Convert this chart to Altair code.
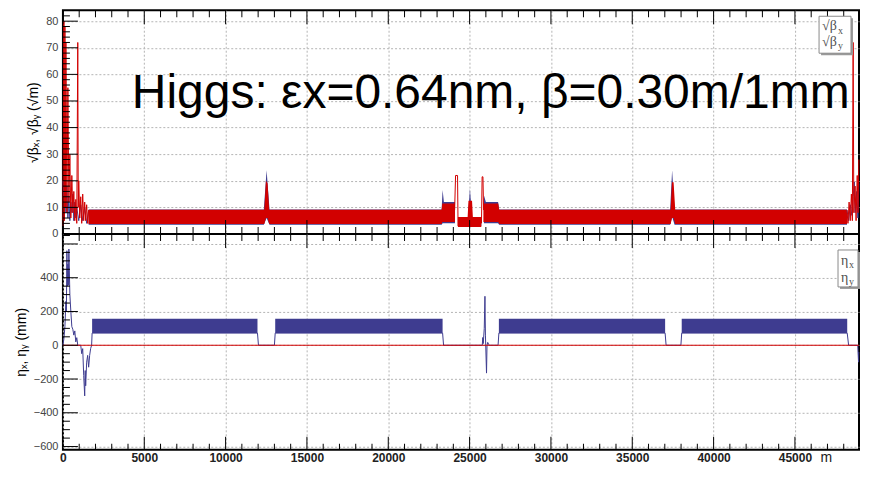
import altair as alt
import pandas as pd

S_MAX = 49000
TITLE = "Higgs: εx=0.64nm, β=0.30m/1mm"

# ---------------- top panel: sqrt(beta) [sqrt(m)] ----------------
# envelope (min/max) of the fast FODO oscillation: segment, s [m], low, high
bx_env_seg = [1, 1, 1, 1, 1, 1, 1, 1, 2, 2, 2, 2, 2, 3, 3, 3, 3, 3, 3, 3, 3]
bx_env_s = [1580, 12350, 12520, 12700, 23280, 23340, 23420, 24100,
            24300, 24900, 25020, 25150, 25720,
            25880, 26000, 26750, 26820, 37330, 37450, 37600, 48200]
bx_env_lo = [3.5, 3.5, 6.0, 3.5, 3.5, 4.0, 4.0, 4.0,
             3.0, 3.0, 3.0, 3.0, 3.0,
             4.0, 4.0, 4.0, 3.5, 3.5, 6.5, 3.5, 3.5]
bx_env_hi = [9.2, 9.2, 24.0, 9.2, 9.2, 16.5, 12.0, 12.0,
             6.2, 6.2, 17.0, 6.2, 6.2,
             14.6, 12.0, 12.0, 9.2, 9.2, 24.0, 9.2, 9.2]

by_env_seg = [1, 1, 1, 1, 1, 1, 1, 1, 2, 2, 2, 2, 2, 2, 3, 3, 3, 3, 3, 3, 3, 3]
by_env_s = [1580, 12380, 12480, 12580, 12680, 23280, 23320, 24100,
            24280, 24880, 24930, 25150, 25200, 25720,
            25850, 26760, 26820, 37360, 37440, 37540, 37640, 48200]
by_env_lo = [3.8, 3.8, 6.0, 6.0, 3.8, 3.8, 4.5, 4.5,
             2.6, 2.6, 2.6, 2.6, 2.6, 2.6,
             4.5, 4.5, 3.8, 3.8, 6.0, 6.0, 3.8, 3.8]
by_env_hi = [9.1, 9.1, 20.0, 19.0, 9.1, 9.1, 11.5, 11.5,
             6.4, 6.4, 12.5, 12.5, 6.4, 6.4,
             11.5, 11.5, 9.1, 9.1, 19.5, 19.5, 9.1, 9.1]

# interaction regions drawn as lines: s [m], value
bx_ir_left_s = [0, 61, 122, 182, 243, 304, 365, 426, 486, 547, 608, 669, 730, 790,
                851, 973, 1094, 1216, 1338, 1459, 1581]
bx_ir_left_v = [20, 14, 22, 8, 18, 6, 14, 5, 12, 8, 15, 5, 12, 6,
                10, 5, 11, 5, 10, 4, 9]
by_ir_left_s = [0, 61, 91, 122, 152, 182, 243, 304, 365, 426, 486, 547, 608, 669,
                730, 790, 851, 912, 942, 973, 1034, 1094, 1155, 1216, 1277, 1338,
                1398, 1459, 1520, 1581]
by_ir_left_v = [3, 80, 5, 78, 10, 72, 8, 55, 12, 30, 6, 22, 8, 16,
                5, 13, 4, 72, 10, 20, 6, 14, 4, 15, 5, 12,
                5, 11, 4, 9]
by_mid1_s = [24080, 24138, 24259, 24290]
by_mid1_v = [9, 22, 22, 3]
by_mid2_s = [25730, 25770, 25820, 25860]
by_mid2_v = [4, 21.5, 21.5, 9]
bx_ir_right_s = [48200, 48300, 48400, 48500, 48580, 48650, 48700, 48800, 48870, 48930]
bx_ir_right_v = [9, 5, 11, 7, 14, 19.6, 8, 16, 6, 19]
by_ir_right_s = [48200, 48260, 48330, 48400, 48470, 48530, 48578, 48620, 48700,
                 48760, 48830, 48880, 48930]
by_ir_right_v = [9, 4, 12, 5, 15, 5, 72, 8, 18, 5, 22, 8, 28]

# ---------------- bottom panel: dispersion [mm] ----------------
arc_start = [1794, 13050, 26800, 38040]
arc_end = [11960, 23340, 37020, 48214]
arc_lo = [72, 72, 72, 72]
arc_hi = [157, 157, 157, 157]

etax_s = [0, 61, 122, 182, 213, 243, 274, 304, 334, 365, 426, 486, 547, 608, 669,
          730, 790, 851, 912, 1094, 1155, 1216, 1277, 1338, 1368, 1398, 1459,
          1520, 1581, 1642, 1702, 1763, 1794,
          11960, 12020, 13000, 13050,
          23340, 23400, 25779, 25810, 25840, 25901, 25943, 25973, 26040, 26070,
          26113, 26174, 26200, 26750, 26800,
          37020, 37080, 37990, 38040,
          48214, 48300, 48860, 48890, 48910, 48930]
etax_v = [0, 40, 110, 260, 200, 560, 350, 480, 355, 570, 300, 200, 110, 95, 60,
          85, 20, 45, 0, 0, -50, -20, -180, -300, -150, -240, -100,
          -60, -130, -60, -20, 0, 72,
          72, 0, 0, 72,
          72, 0, 0, 46, 10, 100, 290, 60, -165, 0,
          17, 5, 0, 0, 72,
          72, 0, 0, 72,
          72, 0, 0, -60, -100, -40]
etay_s = [0, 48930]
etay_v = [0, 0]

# axis ticks
x_major = list(range(0, S_MAX + 1, 5000))
x_minor = [v for v in range(0, 48001, 1000) if v % 5000]
x_grid = [v for v in x_major if v > 0]
yt_major = list(range(0, 81, 10))
yt_minor = [v for v in range(2, 84, 2) if v % 10]
yb_major = list(range(-600, 601, 200))
yb_minor = [v for v in range(-600, 651, 50) if v % 200]

RED = "#d20000"
BLUE = "#3e3c90"
FONT = "Liberation Sans"
W = 797
HT = 224
HB = 216

xs = alt.Scale(domain=[0, 48939], nice=False, zero=False)
yts = alt.Scale(domain=[0, 84.1], nice=False, zero=False)
ybs = alt.Scale(domain=[-619, 659], nice=False, zero=False)

grid = dict(gridColor="#b4b4b4", gridDash=[2, 2], gridWidth=1)

AX_TOP_X = alt.Axis(values=x_grid, grid=True, labels=False, ticks=False,
                    domain=False, title=None, **grid)
AX_TOP_Y = alt.Axis(values=yt_major, grid=True, ticks=False, domain=False,
                    title="√βₓ, √βᵧ (√m)", labelFontSize=11, labelColor="#444",
                    labelPadding=5, labelFlush=False, labelOverlap=False,
                    titleFontSize=14, titleFontWeight="normal", titlePadding=5,
                    titleColor="black", **grid)
AX_BOT_X = alt.Axis(values=x_major, format="d", grid=True, ticks=False, domain=False,
                    labelFontSize=12, labelFontWeight="bold", labelColor="#222",
                    labelPadding=3, labelFlush=False, labelOverlap=False, title="m",
                    titleX=758, titleY=15, titleAlign="left",
                    titleBaseline="bottom", titleFontSize=14,
                    titleFontWeight="normal", titleColor="#222", **grid)
AX_BOT_Y = alt.Axis(values=yb_major, grid=True, ticks=False, domain=False,
                    labelExpr="datum.value == 600 ? '' : datum.label",
                    title="ηₓ, ηᵧ (mm)", labelFontSize=11, labelColor="#444",
                    labelPadding=5, labelFlush=False, labelOverlap=False,
                    titleFontSize=14, titleFontWeight="normal", titlePadding=5,
                    titleColor="black", **grid)


def env_df(seg, s, lo, hi):
    return pd.DataFrame({"seg": seg, "s": s, "lo": lo, "hi": hi})


def line_df(pieces):
    rows = []
    for name, s, v in pieces:
        for a, b in zip(s, v):
            rows.append({"seg": name, "s": a, "v": b})
    return pd.DataFrame(rows)


def xticks(vals, y1, y2, ax):
    return alt.Chart(pd.DataFrame({"t": vals})).mark_rule(color="black", strokeWidth=1).encode(
        x=alt.X("t:Q", scale=xs, axis=ax), y=alt.value(y1), y2=alt.value(y2))


def yticks(vals, ys, length, ax):
    return alt.Chart(pd.DataFrame({"t": vals})).mark_rule(color="black", strokeWidth=1).encode(
        y=alt.Y("t:Q", scale=ys, axis=ax), x=alt.value(0), x2=alt.value(length))


one = pd.DataFrame({"a": [0]})


def box(x1, x2, y1, y2):
    shadow = alt.Chart(one).mark_rect(fill="#9a9a9a").encode(
        x=alt.value(x1 + 2), x2=alt.value(x2 + 2), y=alt.value(y1 + 2), y2=alt.value(y2 + 2))
    frame = alt.Chart(one).mark_rect(fill="white", stroke="#8a8a8a", strokeWidth=1).encode(
        x=alt.value(x1), x2=alt.value(x2), y=alt.value(y1), y2=alt.value(y2))
    return [shadow, frame]


def txt(t, x, y, size, font="Liberation Serif", color="#505050"):
    return alt.Chart(one).mark_text(text=t, font=font, fontSize=size, color=color,
                                    align="left", baseline="alphabetic").encode(
        x=alt.value(x), y=alt.value(y))


# ---------- top panel ----------
bx_env = alt.Chart(env_df(bx_env_seg, bx_env_s, bx_env_lo, bx_env_hi)).mark_area(
    color=BLUE, opacity=1).encode(
    x=alt.X("s:Q", scale=xs, axis=AX_TOP_X),
    y=alt.Y("hi:Q", scale=yts, axis=AX_TOP_Y),
    y2="lo:Q", detail="seg:N")
by_env = alt.Chart(env_df(by_env_seg, by_env_s, by_env_lo, by_env_hi)).mark_area(
    color=RED, opacity=1).encode(
    x=alt.X("s:Q", scale=xs, axis=AX_TOP_X), y=alt.Y("hi:Q", scale=yts, axis=AX_TOP_Y),
    y2="lo:Q", detail="seg:N")
bx_lines = alt.Chart(line_df([("L", bx_ir_left_s, bx_ir_left_v),
                              ("R", bx_ir_right_s, bx_ir_right_v)])).mark_line(
    color=BLUE, strokeWidth=1).encode(
    x=alt.X("s:Q", scale=xs, axis=AX_TOP_X), y=alt.Y("v:Q", scale=yts, axis=AX_TOP_Y),
    detail="seg:N")
by_lines = alt.Chart(line_df([("L", by_ir_left_s, by_ir_left_v),
                              ("M1", by_mid1_s, by_mid1_v),
                              ("M2", by_mid2_s, by_mid2_v),
                              ("R", by_ir_right_s, by_ir_right_v)])).mark_line(
    color=RED, strokeWidth=1).encode(
    x=alt.X("s:Q", scale=xs, axis=AX_TOP_X), y=alt.Y("v:Q", scale=yts, axis=AX_TOP_Y),
    detail="seg:N")

top_layers = [bx_env, by_env, bx_lines, by_lines,
              xticks(x_major, 0, 14, AX_TOP_X), xticks(x_minor, 0, 7, AX_TOP_X),
              xticks(x_major, HT - 14, HT, AX_TOP_X), xticks(x_minor, HT - 7, HT, AX_TOP_X),
              yticks(yt_major, yts, 15, AX_TOP_Y), yticks(yt_minor, yts, 7, AX_TOP_Y),
              txt(TITLE, 69, 98, 48, font=FONT, color="black")]
top_layers += box(757, 789, 6, 43)
top_layers += [txt("√β", 760, 20, 14), txt("x", 776, 24, 10),
               txt("√β", 760, 36, 14), txt("y", 776, 39, 10)]
top = alt.layer(*top_layers).properties(width=W, height=HT)

# ---------- bottom panel ----------
arc_df = pd.DataFrame({
    "seg": [i for i in range(len(arc_start)) for _ in (0, 1)],
    "s": [v for a, b in zip(arc_start, arc_end) for v in (a, b)],
    "lo": [v for v in arc_lo for _ in (0, 1)],
    "hi": [v for v in arc_hi for _ in (0, 1)],
})
arcs = alt.Chart(arc_df).mark_area(color=BLUE, opacity=1).encode(
    x=alt.X("s:Q", scale=xs, axis=AX_BOT_X),
    y=alt.Y("hi:Q", scale=ybs, axis=AX_BOT_Y),
    y2="lo:Q", detail="seg:N")
etax = alt.Chart(pd.DataFrame({"s": etax_s, "v": etax_v})).mark_line(
    color=BLUE, strokeWidth=1).encode(
    x=alt.X("s:Q", scale=xs, axis=AX_BOT_X), y=alt.Y("v:Q", scale=ybs, axis=AX_BOT_Y))
etay = alt.Chart(pd.DataFrame({"s": etay_s, "v": etay_v})).mark_line(
    color=RED, strokeWidth=1.2).encode(
    x=alt.X("s:Q", scale=xs, axis=AX_BOT_X), y=alt.Y("v:Q", scale=ybs, axis=AX_BOT_Y))

bot_layers = [arcs, etax, etay,
              xticks(x_major, 0, 14, AX_BOT_X), xticks(x_minor, 0, 7, AX_BOT_X),
              xticks(x_major, HB - 13, HB, AX_BOT_X), xticks(x_minor, HB - 6, HB, AX_BOT_X),
              yticks(yb_major, ybs, 15, AX_BOT_Y), yticks(yb_minor, ybs, 7, AX_BOT_Y)]
bot_layers += box(776, 796, 16, 53)
bot_layers += [txt("η", 779, 31, 14), txt("x", 787, 34, 10),
               txt("η", 779, 48, 14), txt("y", 787, 51, 10)]
bottom = alt.layer(*bot_layers).properties(width=W, height=HB)

chart = alt.vconcat(top, bottom, spacing=0, bounds="flush").properties(
    padding={"left": 5, "top": 0, "right": 0, "bottom": 0},
    background="white",
).configure_view(stroke="black", strokeWidth=2).configure_axis(
    labelFont=FONT, titleFont=FONT)

chart.save("out.html", embed_options={"renderer": "svg", "actions": False})
